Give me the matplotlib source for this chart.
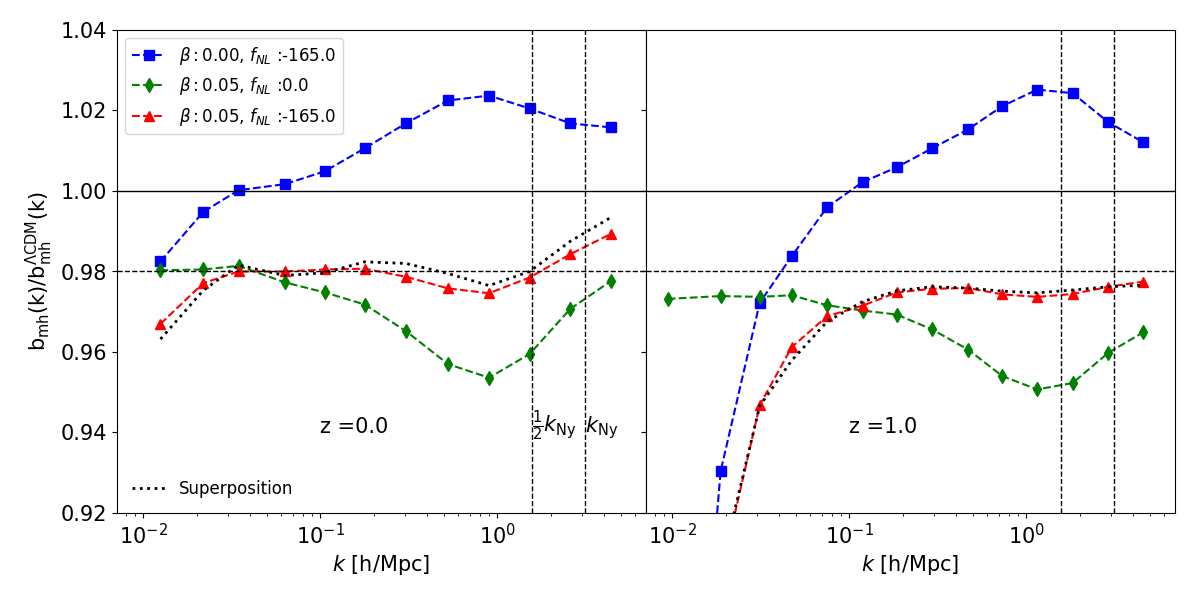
import matplotlib
matplotlib.use("Agg")
import matplotlib.pyplot as plt

# ---- data: z = 0.0 panel ----
k_z0 = [0.0125, 0.0218, 0.0345, 0.063, 0.106, 0.178, 0.304, 0.526, 0.897, 1.52, 2.58, 4.40]
blue_z0 = [0.9825, 0.9948, 1.0002, 1.0017, 1.0049, 1.0106, 1.0168, 1.0225, 1.0237, 1.0205, 1.0168, 1.0158]
green_z0 = [0.9803, 0.9805, 0.9814, 0.9773, 0.9748, 0.9718, 0.9652, 0.9570, 0.9536, 0.9595, 0.9707, 0.9777]
red_z0 = [0.9670, 0.9771, 0.9800, 0.9800, 0.9805, 0.9807, 0.9787, 0.9758, 0.9746, 0.9785, 0.9843, 0.9894]
sup_z0 = [0.9632, 0.9753, 0.9816, 0.9790, 0.9797, 0.9824, 0.9820, 0.9795, 0.9765, 0.9800, 0.9875, 0.9935]

# ---- data: z = 1.0 panel ----
k_z1 = [0.00943, 0.01877, 0.0312, 0.0473, 0.0751, 0.1189, 0.1857, 0.2938, 0.469, 0.7328, 1.154, 1.827, 2.905, 4.58]
blue_z1 = [0.774, 0.9304, 0.9722, 0.9838, 0.9960, 1.0022, 1.0059, 1.0106, 1.0153, 1.0211, 1.0252, 1.0243, 1.0171, 1.0121]
green_z1 = [0.9732, 0.9739, 0.9737, 0.9741, 0.9716, 0.9703, 0.9693, 0.9656, 0.9606, 0.9540, 0.9507, 0.9523, 0.9598, 0.9649]
red_z1 = [0.760, 0.9044, 0.9468, 0.9612, 0.9689, 0.9715, 0.9748, 0.9757, 0.9759, 0.9743, 0.9737, 0.9744, 0.9762, 0.9775]
sup_z1 = [0.753, 0.9061, 0.9466, 0.9579, 0.9676, 0.9725, 0.9752, 0.9762, 0.9759, 0.9751, 0.9747, 0.9754, 0.9762, 0.9766]

labels = [r'$\beta: 0.00$, $f_{NL}$ :-165.0',
          r'$\beta: 0.05$, $f_{NL}$ :0.0',
          r'$\beta: 0.05$, $f_{NL}$ :-165.0']
sup_label = 'Superposition'
z_labels = ['z =0.0', 'z =1.0']
k_ny = 3.14
k_half_ny = 1.57

fig, axes = plt.subplots(1, 2, figsize=(12, 6), dpi=100, sharex=True, sharey=True)
fig.subplots_adjust(left=0.0975, right=0.979, bottom=0.145, top=0.95, wspace=0)

panels = [(k_z0, blue_z0, green_z0, red_z0, sup_z0),
          (k_z1, blue_z1, green_z1, red_z1, sup_z1)]

for i, (ax, (k, b, g, r, s)) in enumerate(zip(axes, panels)):
    l1, = ax.plot(k, b, 'b--', marker='s', ms=7, lw=1.5, label=labels[0])
    l2, = ax.plot(k, g, 'g--', marker='d', ms=7, lw=1.5, label=labels[1])
    l3, = ax.plot(k, r, 'r--', marker='^', ms=7, lw=1.5, label=labels[2])
    l4, = ax.plot(k, s, 'k:', lw=2, label=sup_label)
    ax.axhline(1.0, color='k', lw=1)
    ax.axhline(0.98, color='k', ls='--', lw=1)
    ax.axvline(k_half_ny, color='k', ls='--', lw=1)
    ax.axvline(k_ny, color='k', ls='--', lw=1)
    ax.set_xscale('log')
    ax.set_xlabel(r'$k$ [h/Mpc]', fontsize=15)
    ax.tick_params(axis='both', labelsize=15)
    ax.text(0.1, 0.94, z_labels[i], fontsize=15)
    if i == 0:
        leg1 = ax.legend(handles=[l1, l2, l3], loc='upper left', fontsize=12)
        ax.add_artist(leg1)
        ax.legend(handles=[l4], loc='lower left', fontsize=12, frameon=False)
        ax.text(k_half_ny, 0.94, r'$\frac{1}{2}k_{\rm Ny}$', fontsize=15)
        ax.text(k_ny, 0.94, r'$k_{\rm Ny}$', fontsize=15)

axes[0].set_ylim(0.92, 1.04)
axes[0].set_xlim(0.0071, 6.9)
axes[0].set_ylabel(r'$\mathrm{b_{mh}(k)/b_{mh}^{\Lambda CDM}(k)}$', fontsize=15)

fig.savefig('out.png', dpi=100)
